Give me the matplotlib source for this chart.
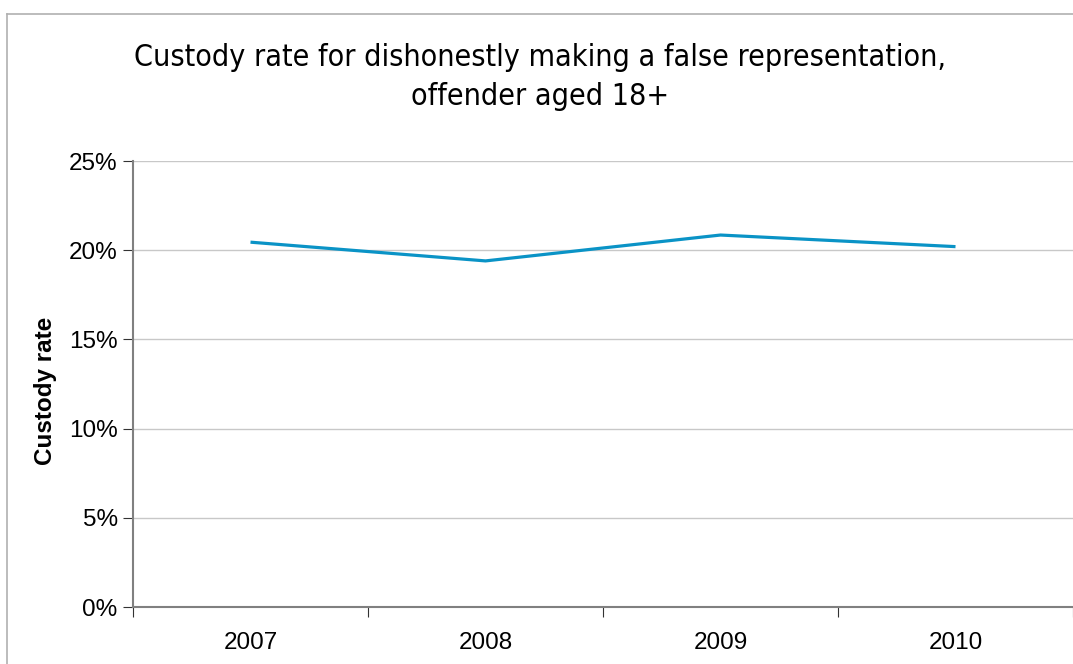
import matplotlib.pyplot as plt
from matplotlib.lines import Line2D

# data
years = ['2007', '2008', '2009', '2010']
custody_rate = [20.45, 19.4, 20.85, 20.2]
y_ticks = [0, 5, 10, 15, 20, 25]

title = 'Custody rate for dishonestly making a false representation,\noffender aged 18+'

fig = plt.figure(figsize=(10.73, 6.64), dpi=100)
ax = fig.add_axes([133/1073, 1 - 607/664, 940/1073, (607-161)/664])

x = list(range(len(years)))
ax.plot(x, custody_rate, color='#0A93C6', lw=2.3, solid_capstyle='butt')

ax.set_xlim(-0.5, len(years) - 0.5)
ax.set_ylim(0, 25)
ax.set_yticks(y_ticks)
ax.set_yticklabels([f'{t}%' for t in y_ticks], fontsize=17.5, family='Liberation Sans')
ax.yaxis.grid(True, color='#c8c8c8', lw=1)
ax.set_axisbelow(True)

# years centred on categories, ticks between them
ax.set_xticks([i - 0.5 for i in range(len(years) + 1)])
ax.set_xticklabels([])
ax.set_xticks(x, minor=True)
ax.set_xticklabels(years, minor=True, fontsize=17.5, family='Liberation Sans')
ax.tick_params(axis='x', which='major', direction='out', length=7, color='#333333')
ax.tick_params(axis='x', which='minor', length=0, pad=18)
ax.tick_params(axis='y', direction='out', length=7, color='#333333', pad=4)

for s in ['top', 'right']:
    ax.spines[s].set_visible(False)
for s in ['left', 'bottom']:
    ax.spines[s].set_color('#808080')
    ax.spines[s].set_linewidth(1.5)

ax.set_ylabel('Custody rate', fontsize=17.5, fontweight='bold', family='Liberation Sans')
ax.yaxis.set_label_coords(-0.081, 0.485)

fig.suptitle(title, x=0.503, y=1 - 43/664, va='top', fontsize=21.8,
             family='DejaVu Sans', fontstretch='condensed', linespacing=1.45)

# chart frame (only top and left edges are inside the picture)
fig.add_artist(Line2D([7/1073, 1], [1 - 14/664, 1 - 14/664], color='#b0b0b0', lw=1.2, transform=fig.transFigure))
fig.add_artist(Line2D([7/1073, 7/1073], [0, 1 - 14/664], color='#b0b0b0', lw=1.2, transform=fig.transFigure))

fig.savefig('out.png', dpi=100)
